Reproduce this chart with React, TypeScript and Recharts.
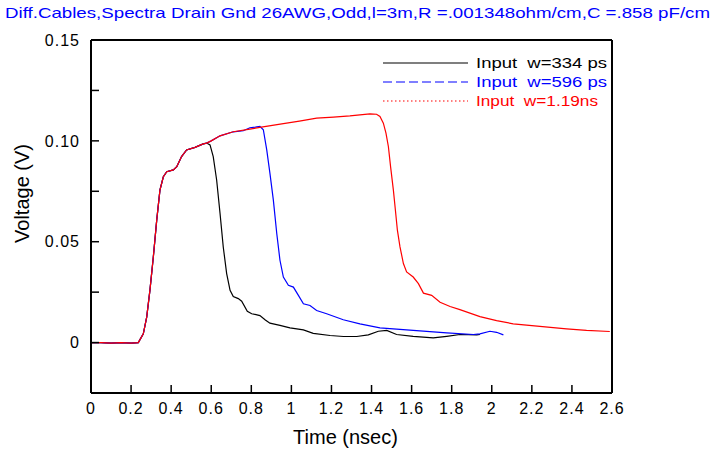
import React from 'react';
import { LineChart, Line, XAxis, YAxis, Legend } from 'recharts';

const titleText = 'Diff.Cables,Spectra Drain Gnd 26AWG,Odd,l=3m,R =.001348ohm/cm,C =.858 pF/cm';
const xLabel = 'Time (nsec)';
const yLabel = 'Voltage (V)';

const xTicks = [0, 0.2, 0.4, 0.6, 0.8, 1, 1.2, 1.4, 1.6, 1.8, 2, 2.2, 2.4, 2.6];
const yTicks = [-0.025, 0, 0.025, 0.05, 0.075, 0.1, 0.125, 0.15];
const yMajorLabels: Record<string, string> = { '0': '0', '0.05': '0.05', '0.1': '0.10', '0.15': '0.15' };

const seriesNames = ['Input  w=334 ps', 'Input  w=596 ps', 'Input  w=1.19ns'];
const seriesColors = ['#000000', '#0000ff', '#ff0000'];

// shared rising edge (all three inputs coincide)
const riseT = [0, 0.05, 0.1, 0.15, 0.2, 0.236, 0.261, 0.278, 0.294, 0.311, 0.328, 0.344, 0.361, 0.378, 0.411, 0.428, 0.452, 0.477, 0.519, 0.56, 0.577];
const riseV = [0, 0, -0.0003, 0, -0.0003, 0, 0.0043, 0.0126, 0.0259, 0.0424, 0.0607, 0.0756, 0.0822, 0.0847, 0.0856, 0.0872, 0.0922, 0.0955, 0.0968, 0.0985, 0.0989];

const blackT = [0.594, 0.61, 0.627, 0.644, 0.66, 0.677, 0.694, 0.71, 0.735, 0.752, 0.78, 0.802, 0.843, 0.87, 0.893, 0.943, 0.993, 1.06, 1.109, 1.193, 1.26, 1.326, 1.384, 1.434, 1.476, 1.525, 1.608, 1.708, 1.775, 1.841, 1.925, 1.941];
const blackV = [0.098, 0.0922, 0.0806, 0.064, 0.0474, 0.0342, 0.0259, 0.0228, 0.0218, 0.0205, 0.0155, 0.0143, 0.0134, 0.0112, 0.0096, 0.0085, 0.0073, 0.0063, 0.0046, 0.0035, 0.003, 0.003, 0.0038, 0.0056, 0.006, 0.004, 0.0031, 0.0023, 0.0031, 0.004, 0.0038, 0.004];

const blueT = [0.6, 0.644, 0.71, 0.76, 0.793, 0.82, 0.843, 0.86, 0.877, 0.893, 0.91, 0.927, 0.943, 0.96, 0.985, 1.01, 1.035, 1.06, 1.093, 1.126, 1.176, 1.259, 1.342, 1.442, 1.608, 1.775, 1.908, 1.941, 1.991, 2.024, 2.058];
const blueV = [0.1, 0.1025, 0.1045, 0.105, 0.1065, 0.1068, 0.1072, 0.1055, 0.0955, 0.0839, 0.0706, 0.0541, 0.0408, 0.0325, 0.0284, 0.0275, 0.0234, 0.0192, 0.0184, 0.0159, 0.0143, 0.0113, 0.0093, 0.0073, 0.006, 0.0048, 0.004, 0.0043, 0.0056, 0.0051, 0.0038];

const redT = [0.6, 0.644, 0.71, 0.793, 0.85, 0.96, 1.04, 1.126, 1.21, 1.292, 1.342, 1.392, 1.425, 1.442, 1.459, 1.472, 1.484, 1.495, 1.509, 1.519, 1.529, 1.542, 1.559, 1.575, 1.608, 1.634, 1.659, 1.7, 1.742, 1.792, 1.841, 1.941, 2.024, 2.107, 2.24, 2.373, 2.473, 2.589];
const redV = [0.1, 0.1025, 0.1045, 0.1058, 0.1068, 0.1085, 0.1098, 0.1113, 0.1118, 0.1124, 0.1129, 0.1134, 0.1132, 0.1121, 0.1088, 0.1038, 0.0972, 0.0872, 0.0756, 0.0657, 0.0557, 0.0474, 0.0392, 0.035, 0.0325, 0.0292, 0.0245, 0.0234, 0.02, 0.0179, 0.0163, 0.0129, 0.0109, 0.0093, 0.008, 0.0068, 0.006, 0.0055];

const toPoints = (ts: number[], vs: number[]) => ts.map((t, i) => ({ t, v: vs[i] }));
const blackData = toPoints(riseT.concat(blackT), riseV.concat(blackV));
const blueData = toPoints(riseT.concat(blueT), riseV.concat(blueV));
const redData = toPoints(riseT.concat(redT), riseV.concat(redV));

const FONT = '"Liberation Sans", Arial, sans-serif';

const fmtX = (v: number) => String(Number(v.toFixed(1)));
const fmtY = (v: number) => yMajorLabels[String(Number(v.toFixed(3)))] ?? '';

const legendDash = ['', '9 4', '1.5 2.5'];

const LegendBox = () => (
  <svg width={240} height={64} style={{ display: 'block' }}>
    {seriesNames.map((name, i) => (
      <g key={name}>
        <line x1={8} x2={93} y1={11 + i * 19} y2={11 + i * 19} stroke={seriesColors[i]} strokeWidth={1.2}
          strokeDasharray={legendDash[i] || undefined} />
        <text x={101} y={16 + i * 19} fill={seriesColors[i]} fontSize={15} fontFamily={FONT}
          style={{ whiteSpace: 'pre' }}
          textLength={i === 2 ? 122 : 131} lengthAdjust="spacingAndGlyphs">{name}</text>
      </g>
    ))}
  </svg>
);

const YLabel = (props: any) => {
  const vb = props.viewBox || { x: 0, y: 0, width: 0, height: 0 };
  const cx = vb.x + 22;
  const cy = vb.y + vb.height / 2 - 23;
  return (
    <text x={cx} y={cy} transform={`rotate(-90 ${cx} ${cy})`} textAnchor="middle" dominantBaseline="central"
      fontSize={20} fontFamily={FONT} fill="#000">{yLabel}</text>
  );
};

const XLabel = (props: any) => {
  const vb = props.viewBox || { x: 0, y: 0, width: 0, height: 0 };
  const cx = vb.x + vb.width / 2 - 6;
  const cy = vb.y + 51;
  return (
    <text x={cx} y={cy} textAnchor="middle" fontSize={20} fontFamily={FONT} fill="#000">{xLabel}</text>
  );
};

export default function App() {
  const tickStyle = { fontSize: 16, fontFamily: FONT, fill: '#000', letterSpacing: 1 };
  return (
    <div style={{ position: 'absolute', left: 0, top: 0, width: 716, height: 452, background: '#fff' }}>
      <svg width={716} height={24} style={{ position: 'absolute', left: 0, top: 0 }}>
        <text x={5} y={18} fill="#0000ff" fontSize={15} fontFamily={FONT} textLength={705} lengthAdjust="spacingAndGlyphs">{titleText}</text>
      </svg>
      <LineChart width={716} height={452} margin={{ top: 39, right: 103, bottom: 0, left: 0 }}>
        <XAxis xAxisId="b" dataKey="t" type="number" domain={[0, 2.6]} ticks={xTicks} allowDataOverflow
          height={59} tickSize={-8} tickMargin={18} tickFormatter={fmtX} tick={tickStyle}
          axisLine={{ stroke: '#000', strokeWidth: 2 }} tickLine={{ stroke: '#000', strokeWidth: 1.5 }}
          interval={0} label={<XLabel />} />
        <XAxis xAxisId="t" orientation="top" dataKey="t" type="number" domain={[0, 2.6]} ticks={xTicks} allowDataOverflow
          height={1} tickSize={-8} tick={false} axisLine={{ stroke: '#000', strokeWidth: 2 }}
          tickLine={{ stroke: '#000', strokeWidth: 1.5 }} interval={0} />
        <YAxis yAxisId="l" type="number" domain={[-0.025, 0.15]} ticks={yTicks} allowDataOverflow
          width={91} tickSize={-8} tickMargin={19} tickFormatter={fmtY} tick={tickStyle}
          axisLine={{ stroke: '#000', strokeWidth: 2 }} tickLine={{ stroke: '#000', strokeWidth: 1.5 }}
          interval={0} label={<YLabel />} />
        <YAxis yAxisId="r" orientation="right" type="number" domain={[-0.025, 0.15]} ticks={yTicks} allowDataOverflow
          width={1} tickSize={-8} tick={false} axisLine={{ stroke: '#000', strokeWidth: 2 }}
          tickLine={{ stroke: '#000', strokeWidth: 1.5 }} interval={0} />
        <Legend layout="vertical" align="center" verticalAlign="middle" content={<LegendBox />}
          wrapperStyle={{ position: 'absolute', left: 375, top: 52, width: 240, height: 64 }} />
        <Line xAxisId="b" yAxisId="l" data={blackData} dataKey="v" name={seriesNames[0]} type="linear"
          stroke={seriesColors[0]} strokeWidth={1.2} dot={false} isAnimationActive={false} />
        <Line xAxisId="b" yAxisId="l" data={blueData} dataKey="v" name={seriesNames[1]} type="linear"
          stroke={seriesColors[1]} strokeWidth={1.2} dot={false} isAnimationActive={false} />
        <Line xAxisId="b" yAxisId="l" data={redData} dataKey="v" name={seriesNames[2]} type="linear"
          stroke={seriesColors[2]} strokeWidth={1.2} dot={false} isAnimationActive={false} />
      </LineChart>
    </div>
  );
}
